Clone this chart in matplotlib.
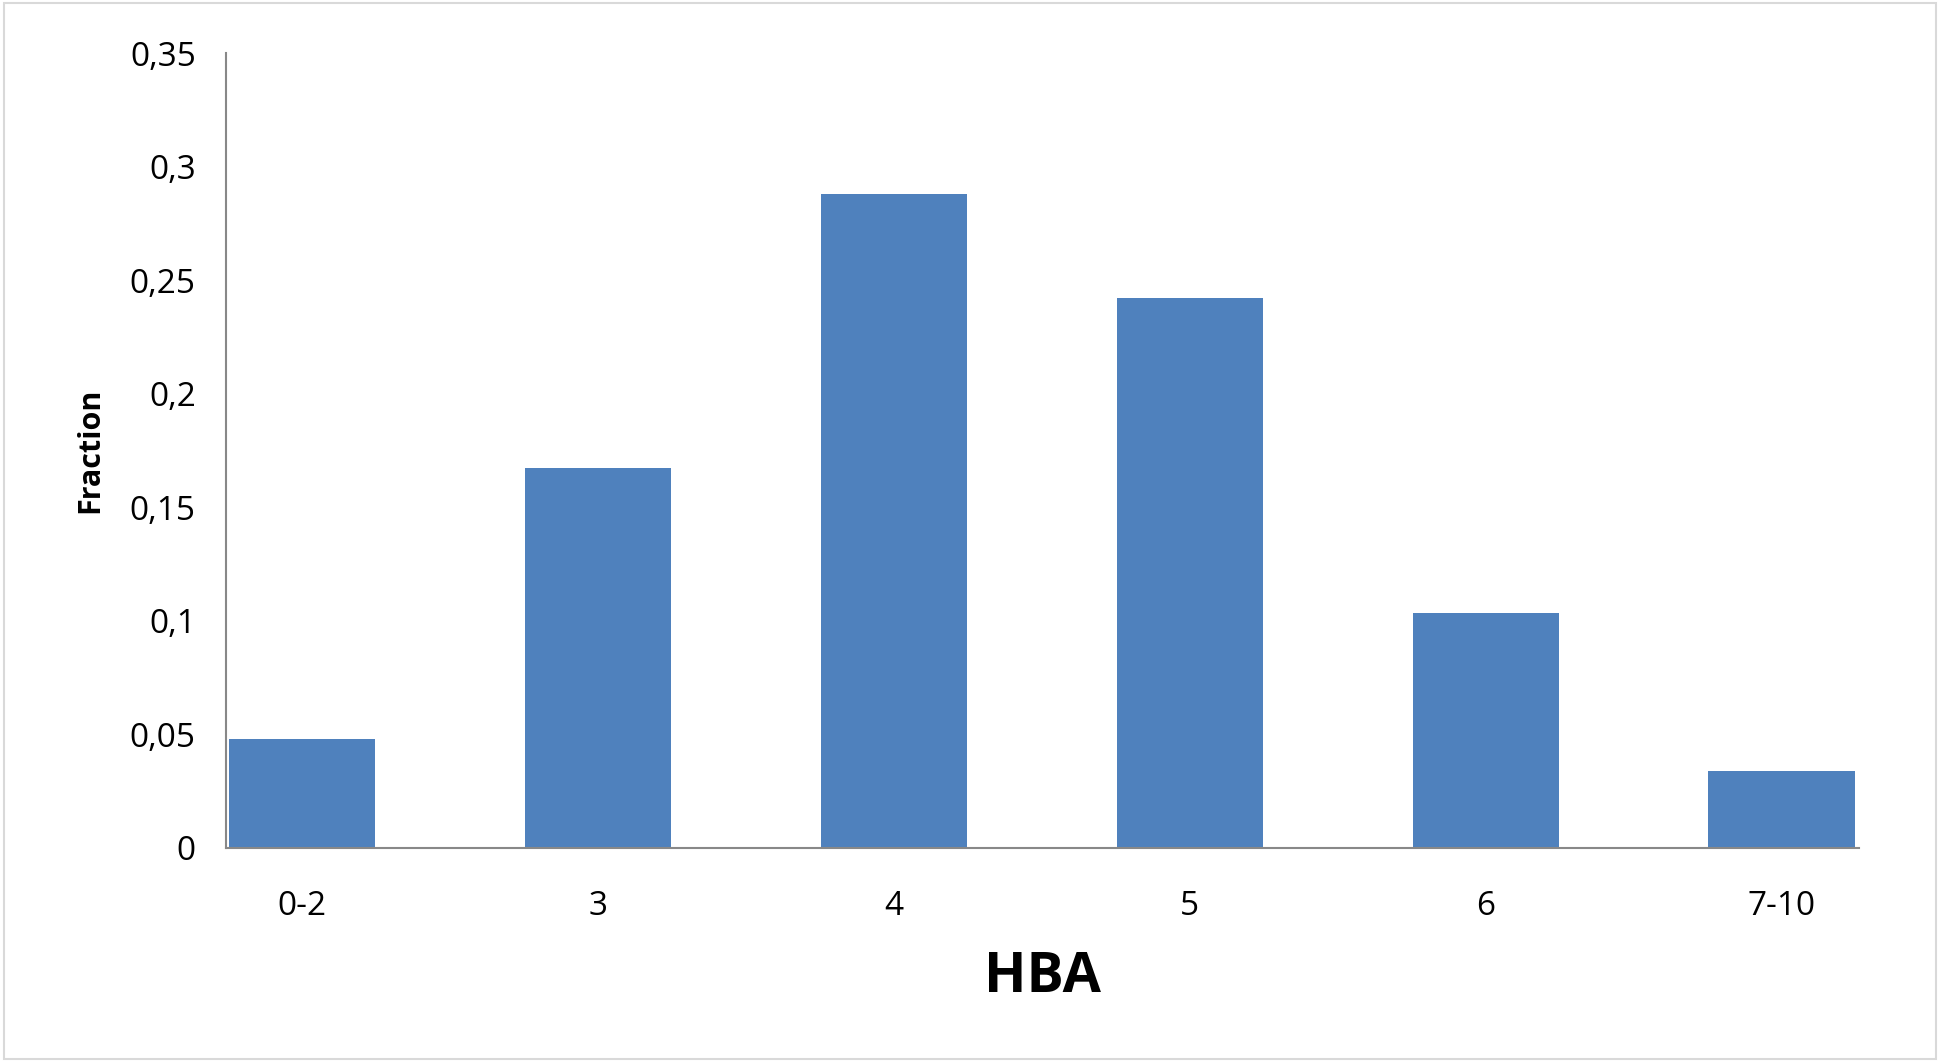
import matplotlib.pyplot as plt
import numpy as np
from matplotlib.patches import Rectangle

plt.rcParams['font.family'] = ['Open Sans', 'DejaVu Sans']

categories = ["0-2", "3", "4", "5", "6", "7-10"]
fractions = [0.048, 0.1675, 0.288, 0.242, 0.1035, 0.034]
yticks = [0, 0.05, 0.1, 0.15, 0.2, 0.25, 0.3, 0.35]
ytick_labels = ["0", "0,05", "0,1", "0,15", "0,2", "0,25", "0,3", "0,35"]

fig = plt.figure(figsize=(19.4, 10.62), dpi=100)
ax = fig.add_axes([0.1167, 0.2016, 0.8413, 0.7484])

x = np.arange(len(categories))
ax.bar(x, fractions, width=0.494, color='#4F81BD')

ax.set_xlim(-0.255, len(categories) - 1 + 0.26)
ax.set_ylim(0, 0.35)
ax.set_xticks(x)
ax.set_xticklabels(categories, fontsize=24)
ax.set_yticks(yticks)
ax.set_yticklabels(ytick_labels, fontsize=24)
ax.tick_params(length=0, pad=22)
ax.tick_params(axis='x', pad=30)

for s in ['top', 'right']:
    ax.spines[s].set_visible(False)
for s in ['left', 'bottom']:
    ax.spines[s].set_color('#888888')
    ax.spines[s].set_linewidth(1.5)

ax.set_xlabel('HBA', fontsize=40, fontweight='bold', labelpad=20)
ax.set_ylabel('Fraction', fontsize=22, fontweight='bold', labelpad=18)

fig.patches.append(Rectangle((0.002, 0.003), 0.996, 0.994, transform=fig.transFigure,
                             fill=False, edgecolor='#D9D9D9', linewidth=1.5))

fig.savefig('out.png', dpi=100)
